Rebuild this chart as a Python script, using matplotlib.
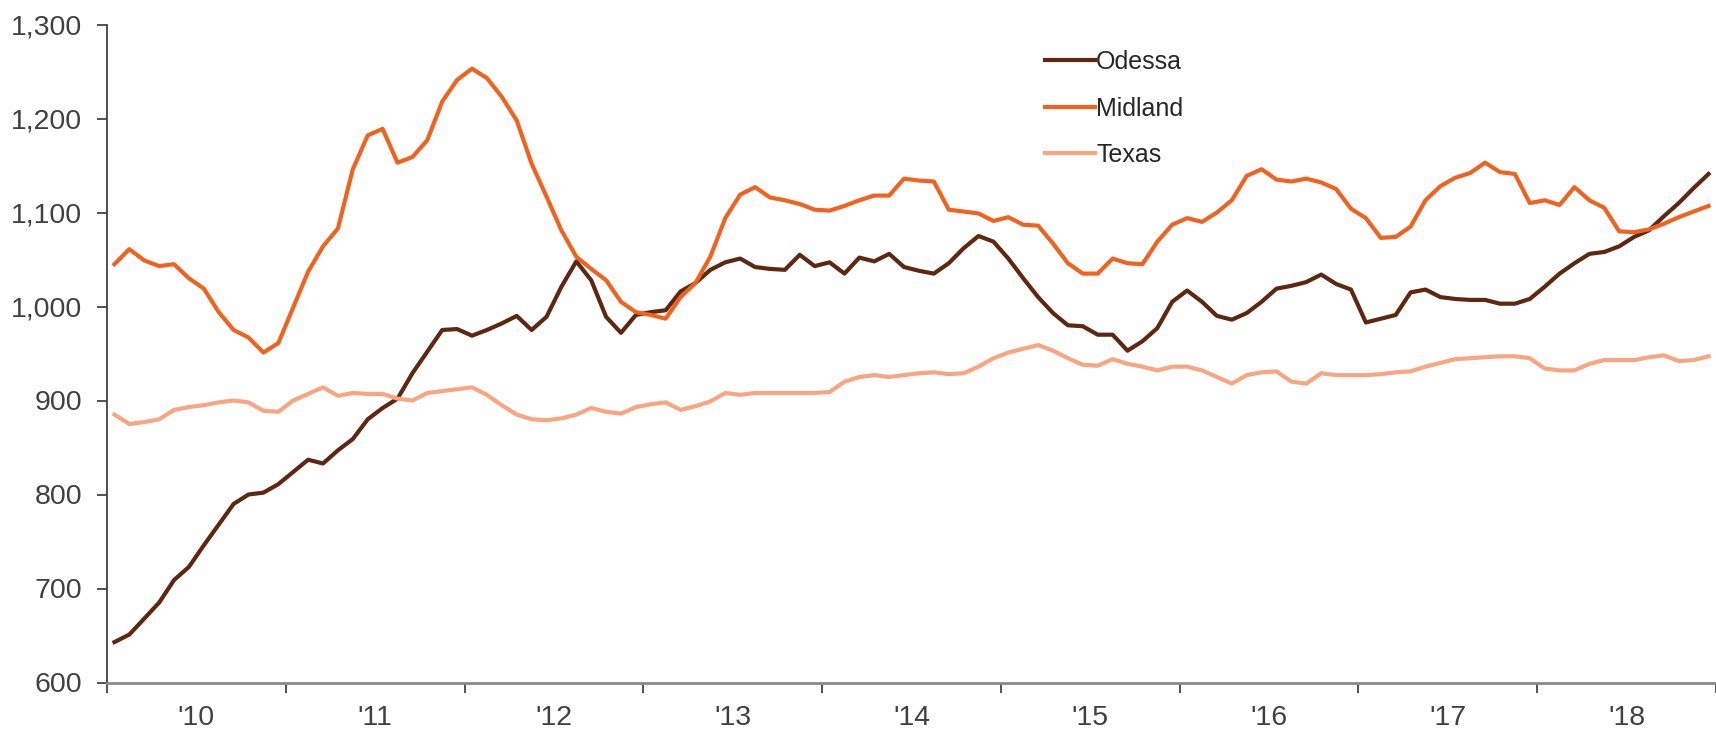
import matplotlib.pyplot as plt
import numpy as np

# =========================
# DATA (monthly, Jan 2010 - Dec 2018)
# =========================

years = ["'10", "'11", "'12", "'13", "'14", "'15", "'16", "'17", "'18"]

odessa = [643, 651, 668, 685, 709, 723, 746, 768, 790, 800,
          802, 811, 824, 837, 833, 847, 859, 880, 892, 902,
          929, 952, 975, 976, 969, 975, 982, 990, 975, 989,
          1021, 1048, 1028, 989, 972, 991, 994, 996, 1016, 1025,
          1039, 1047, 1051, 1042, 1040, 1039, 1055, 1043, 1047, 1035,
          1052, 1048, 1056, 1042, 1038, 1035, 1046, 1062, 1075, 1069,
          1051, 1030, 1010, 993, 980, 979, 970, 970, 953, 963,
          977, 1005, 1017, 1005, 990, 986, 993, 1005, 1019, 1022,
          1026, 1034, 1024, 1018, 983, 987, 991, 1015, 1018, 1010,
          1008, 1007, 1007, 1003, 1003, 1008, 1021, 1035, 1046, 1056,
          1058, 1064, 1074, 1081, 1096, 1110, 1126, 1141]

midland = [1045, 1061, 1049, 1043, 1045, 1030, 1019, 994, 975, 967,
           951, 961, 999, 1037, 1064, 1083, 1146, 1182, 1189, 1153,
           1159, 1177, 1218, 1241, 1253, 1243, 1223, 1198, 1152, 1117,
           1081, 1053, 1040, 1028, 1005, 994, 991, 987, 1010, 1025,
           1053, 1094, 1119, 1127, 1116, 1113, 1109, 1103, 1102, 1107,
           1113, 1118, 1118, 1136, 1134, 1133, 1103, 1101, 1099, 1091,
           1095, 1087, 1086, 1067, 1046, 1035, 1035, 1051, 1046, 1045,
           1069, 1087, 1094, 1090, 1100, 1113, 1139, 1146, 1135, 1133,
           1136, 1132, 1125, 1104, 1094, 1073, 1074, 1085, 1113, 1128,
           1137, 1142, 1153, 1143, 1141, 1110, 1113, 1108, 1127, 1113,
           1105, 1080, 1079, 1082, 1088, 1095, 1101, 1107]

texas = [885, 875, 877, 880, 890, 893, 895, 898, 900, 898,
         889, 888, 900, 907, 914, 905, 908, 907, 907, 902,
         900, 908, 910, 912, 914, 906, 895, 885, 880, 879,
         881, 885, 892, 888, 886, 893, 896, 898, 890, 894,
         899, 908, 906, 908, 908, 908, 908, 908, 909, 920,
         925, 927, 925, 927, 929, 930, 928, 929, 936, 945,
         951, 955, 959, 953, 945, 938, 937, 944, 939, 936,
         932, 936, 936, 932, 925, 918, 927, 930, 931, 920,
         918, 929, 927, 927, 927, 928, 930, 931, 936, 940,
         944, 945, 946, 947, 947, 945, 934, 932, 932, 939,
         943, 943, 943, 946, 948, 942, 943, 947]

# =========================
# PLOT
# =========================

plt.rcParams['font.family'] = ['Liberation Sans', 'DejaVu Sans']

fig = plt.figure(figsize=(17.16, 7.29), dpi=100)
ax = fig.add_axes([107 / 1716, 46.5 / 729, 1 - 107 / 1716, 658 / 729])

x = np.arange(len(odessa)) + 0.5  # points sit in the middle of each month slot
ax.plot(x, odessa, color='#5e2712', linewidth=3.0, label='Odessa')
ax.plot(x, midland, color='#f0621f', linewidth=3.0, label='Midland')
ax.plot(x, texas, color='#f8a682', linewidth=3.0, label='Texas')

ax.set_xlim(0, len(odessa))
ax.set_ylim(600, 1300)

# year boundaries get the tick marks, labels sit mid-year
ax.set_xticks(np.arange(0, len(odessa) + 1, 12))
ax.set_xticklabels([])
ax.set_xticks(np.arange(6, len(odessa), 12), minor=True)
ax.set_xticklabels(years, minor=True)
ax.tick_params(axis='x', which='major', length=7, width=1.2, color='#333333', direction='out')
ax.tick_params(axis='x', which='minor', length=0, pad=16, labelsize=20.5, labelcolor='#404040')

ax.set_yticks(range(600, 1301, 100))
ax.set_yticklabels([f'{v:,}' for v in range(600, 1301, 100)])
ax.tick_params(axis='y', length=7, width=1.2, color='#333333', pad=11,
               labelsize=20.5, labelcolor='#404040')

for side in ['top', 'right']:
    ax.spines[side].set_visible(False)
ax.spines['left'].set_color('#404040')
ax.spines['left'].set_linewidth(1.3)
ax.spines['bottom'].set_color('#8a8a8a')
ax.spines['bottom'].set_linewidth(2)

leg = ax.legend(loc='upper left', bbox_to_anchor=(1045 / 1716, 1 - 50 / 729),
                bbox_transform=fig.transFigure, frameon=False, fontsize=18,
                handlelength=2.0, handletextpad=0.05, labelspacing=0.9,
                borderpad=0, borderaxespad=0)
for t in leg.get_texts():
    t.set_color('#262626')

plt.savefig('out.png', dpi=100)
